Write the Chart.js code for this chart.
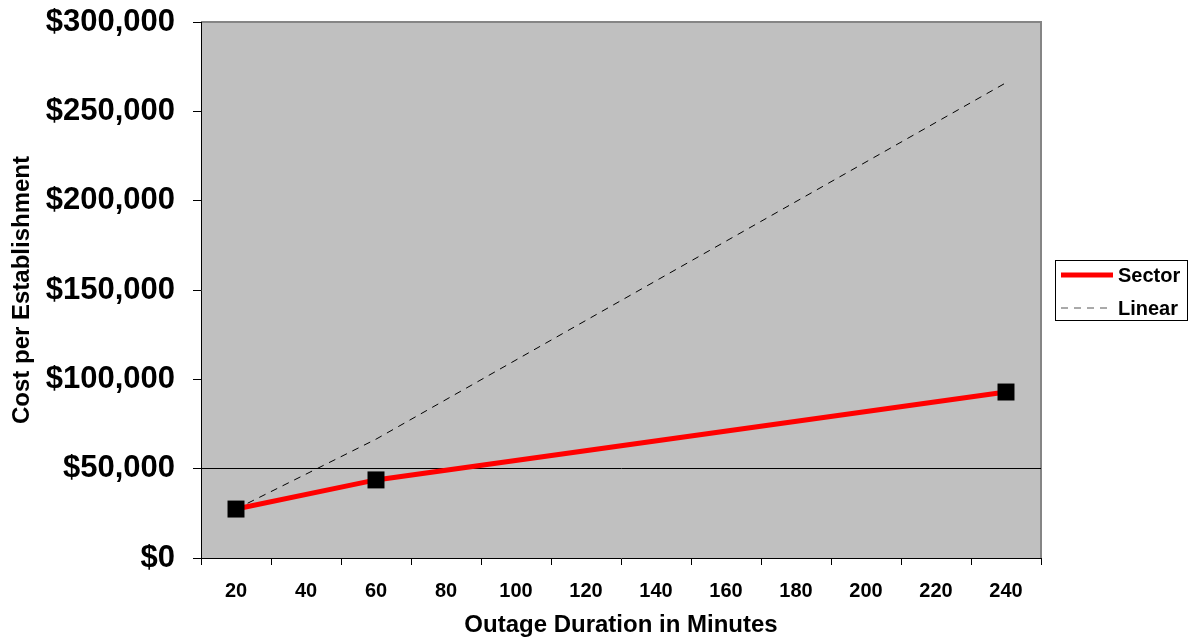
<!DOCTYPE html>
<html>
<head>
<meta charset="utf-8">
<script src="https://cdn.jsdelivr.net/npm/chart.js@4/dist/chart.umd.min.js"></script>
<style>
  html, body { margin: 0; padding: 0; background: #fff; }
  #wrap { width: 1188px; height: 644px; position: relative; }
</style>
</head>
<body>
<div id="wrap"><canvas id="cost"></canvas></div>
<script>
// outage duration (minutes) and cost per establishment
const minutes = [20, 60, 240];
const sectorCost = [27400, 43700, 92900];
const linearCost = [27400, 66500, 266000];
const seriesNames = ['Sector', 'Linear'];

const xMin = 10, xMax = 250;
const yMin = 0, yMax = 300000, yStep = 50000;
const refLine = 50000;

const FONT = "'Liberation Sans', Arial, sans-serif";

function points(ys) {
  return minutes.map((m, i) => ({ x: m, y: ys[i] }));
}

// gray plot area with a lighter frame on top and right
const plotBackground = {
  id: 'plotBackground',
  beforeDraw(chart) {
    const { ctx, chartArea: a } = chart;
    ctx.save();
    ctx.fillStyle = '#c0c0c0';
    ctx.fillRect(a.left, a.top, a.right - a.left, a.bottom - a.top);
    ctx.strokeStyle = '#858585';
    ctx.lineWidth = 2;
    ctx.beginPath();
    ctx.moveTo(a.left, a.top);
    ctx.lineTo(a.right, a.top);
    ctx.lineTo(a.right, a.bottom);
    ctx.stroke();
    ctx.restore();
  }
};

// boxed legend to the right of the plot
const boxLegend = {
  id: 'boxLegend',
  afterDraw(chart) {
    const { ctx } = chart;
    const x0 = 1055.5, y0 = 260.5, w = 132, h = 60;
    ctx.save();
    ctx.fillStyle = '#fff';
    ctx.fillRect(x0, y0, w, h);
    ctx.strokeStyle = '#000';
    ctx.lineWidth = 1;
    ctx.strokeRect(x0, y0, w, h);
    ctx.font = 'bold 20px ' + FONT;
    ctx.textBaseline = 'middle';
    ctx.fillStyle = '#000';
    chart.data.datasets.forEach((ds, i) => {
      const y = 275 + i * 33;
      ctx.beginPath();
      ctx.strokeStyle = i === 0 ? ds.borderColor : '#555';
      ctx.lineWidth = ds.borderWidth;
      ctx.setLineDash(ds.borderDash || []);
      ctx.moveTo(1061, y);
      ctx.lineTo(1113, y);
      ctx.stroke();
      ctx.setLineDash([]);
      ctx.fillText(ds.label, 1118, y + 1);
    });
    ctx.restore();
  }
};

new Chart(document.getElementById('cost').getContext('2d'), {
  type: 'line',
  data: {
    datasets: [
      {
        label: seriesNames[0],
        data: points(sectorCost),
        borderColor: '#ff0000',
        borderWidth: 5,
        pointStyle: 'rect',
        pointRadius: 12,
        pointHoverRadius: 12,
        pointBackgroundColor: '#000',
        pointBorderColor: '#000',
        pointBorderWidth: 0,
        tension: 0
      },
      {
        label: seriesNames[1],
        data: points(linearCost),
        borderColor: '#000',
        borderWidth: 1,
        borderDash: [7, 6],
        pointRadius: 0,
        tension: 0
      }
    ]
  },
  options: {
    responsive: true,
    maintainAspectRatio: false,
    animation: false,
    layout: { padding: { top: 22, right: 147, left: 0, bottom: 0 } },
    plugins: {
      legend: { display: false },
      tooltip: { enabled: false }
    },
    scales: {
      x: {
        type: 'linear',
        min: xMin,
        max: xMax,
        afterFit(scale) {
          scale.height = 86;
          scale.paddingLeft = 0;
          scale.paddingRight = 0;
        },
        ticks: {
          stepSize: 10,
          autoSkip: false,
          maxRotation: 0,
          padding: 14,
          color: '#000',
          font: { family: FONT, size: 20, weight: 'bold' },
          callback: v => (v % 20 === 0 ? String(v) : '')
        },
        grid: {
          drawOnChartArea: false,
          tickLength: 7,
          tickColor: ctx => (ctx.tick && ctx.tick.value % 20 === 10 ? '#000' : 'rgba(0,0,0,0)')
        },
        border: { color: '#000', width: 1 },
        title: {
          display: true,
          text: 'Outage Duration in Minutes',
          color: '#000',
          font: { family: FONT, size: 24, weight: 'bold' },
          padding: { top: 0, bottom: 4 }
        }
      },
      y: {
        min: yMin,
        max: yMax,
        afterFit(scale) {
          scale.width = 201;
          scale.paddingTop = 0;
          scale.paddingBottom = 0;
        },
        ticks: {
          stepSize: yStep,
          padding: 18,
          color: '#000',
          font: { family: FONT, size: 31, weight: 'bold' },
          callback: v => '$' + Number(v).toLocaleString('en-US')
        },
        grid: {
          tickLength: 8,
          tickColor: '#000',
          color: ctx => (ctx.tick && ctx.tick.value === refLine ? '#000' : 'rgba(0,0,0,0)')
        },
        border: { color: '#000', width: 1 },
        title: {
          display: true,
          text: 'Cost per Establishment',
          color: '#000',
          font: { family: FONT, size: 24, weight: 'bold' },
          padding: { top: 8, bottom: 0 }
        }
      }
    }
  },
  plugins: [plotBackground, boxLegend]
});
</script>
</body>
</html>
